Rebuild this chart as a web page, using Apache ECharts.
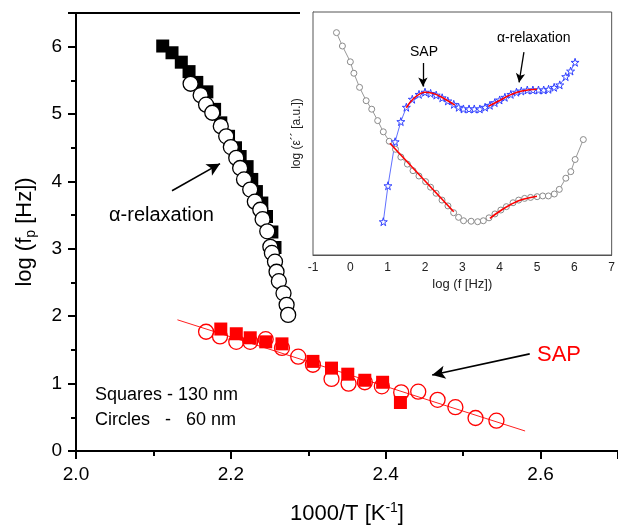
<!DOCTYPE html>
<html>
<head>
<meta charset="utf-8">
<script src="https://cdn.jsdelivr.net/npm/echarts@6/dist/echarts.min.js"></script>
<style>html,body{margin:0;padding:0;background:#fff;}#c{width:618px;height:531px;}</style>
</head>
<body>
<div id="c"></div>
<script>
// ---- main chart data: 1000/T [K^-1] vs log(fp [Hz]) ----
const alphaSquares = [
  [2.112,6.01],[2.124,5.91],[2.136,5.77],[2.146,5.63],[2.156,5.47],[2.169,5.33],
  [2.179,5.07],[2.187,4.87],[2.197,4.67],[2.206,4.50],[2.212,4.37],[2.221,4.22],
  [2.227,4.03],[2.233,3.85],[2.240,3.68],[2.246,3.48],[2.253,3.25],[2.257,3.02]
];
const alphaCircles = [
  [2.148,5.45],[2.161,5.28],[2.168,5.14],[2.176,5.02],[2.187,4.82],[2.194,4.67],
  [2.200,4.51],[2.207,4.35],[2.212,4.20],[2.217,4.03],[2.225,3.88],[2.231,3.70],
  [2.238,3.58],[2.241,3.44],[2.247,3.26],[2.251,3.03],[2.253,2.94],[2.257,2.81],
  [2.259,2.66],[2.262,2.52],[2.268,2.34],[2.272,2.17],[2.274,2.02]
];
const sapSquares = [
  [2.187,1.81],[2.207,1.74],[2.225,1.68],[2.245,1.62],[2.266,1.59],[2.306,1.33],
  [2.330,1.23],[2.351,1.14],[2.373,1.05],[2.396,1.02],[2.419,0.72]
];
const sapCircles = [
  [2.168,1.77],[2.186,1.70],[2.207,1.62],[2.225,1.62],[2.245,1.66],[2.266,1.53],
  [2.287,1.40],[2.306,1.28],[2.330,1.07],[2.352,1.00],[2.373,1.02],[2.395,0.96],
  [2.420,0.87],[2.442,0.88],[2.467,0.76],[2.490,0.65],[2.516,0.49],[2.543,0.45]
];
const sapFit = [[2.131,1.947],[2.580,0.297]];
const mainXTicks = [2.0, 2.2, 2.4, 2.6];
const mainYTicks = [0, 1, 2, 3, 4, 5, 6];

// ---- inset data: log(f [Hz]) vs log(eps'') [a.u.] ----
const insetCircles = [
  [-0.371,91.5],[-0.212,86.0],[0.0,79.5],[0.095,74.8],[0.247,69.0],[0.424,63.5],
  [0.573,60.0],[0.732,55.3],[0.883,50.7],[1.042,46.8],[1.210,43.5],[1.353,40.3],
  [1.528,37.4],[1.679,34.7],[1.838,32.5],[2.016,30.2],[2.149,27.9],[2.297,25.4],
  [2.456,22.6],[2.615,20.2],[2.767,17.4],[2.899,15.5],[3.032,14.1],[3.236,13.9],
  [3.411,13.7],[3.562,14.1],[3.714,15.3],[3.873,16.9],[4.032,18.5],[4.180,19.9],
  [4.358,21.5],[4.509,22.6],[4.668,23.3],[4.828,23.7],[5.003,24.0],[5.154,24.3],
  [5.305,24.3],[5.464,25.1],[5.597,27.0],[5.772,31.6],[5.905,34.3],[6.021,39.3],
  [6.241,47.5]
];
const insetStars = [
  [0.883,13.7],[1.008,28.5],[1.20,46.6],[1.353,54.9],[1.50,60.8],[1.66,64.1],
  [1.84,66.1],[2.0,67.0],[2.15,66.5],[2.30,65.8],[2.46,64.7],[2.61,63.4],
  [2.77,62.0],[2.90,60.8],[3.03,60.1],[3.18,60.1],[3.32,60.1],[3.47,60.1],
  [3.61,60.8],[3.74,61.6],[3.87,62.7],[4.0,63.8],[4.14,64.9],[4.30,66.1],
  [4.45,67.0],[4.58,67.5],[4.74,67.9],[4.89,67.9],[5.04,67.9],[5.18,67.9],
  [5.31,68.2],[5.46,69.0],[5.61,70.0],[5.77,73.4],[5.90,75.7],[6.02,79.3]
];
const fitStarsSAP = [[1.5,60.6],[1.7,64.5],[1.9,66.6],[2.0,67.0],[2.2,66.6],[2.4,65.3],[2.6,63.6],[2.8,61.7]];
const fitStarsAlpha = [[3.7,61.2],[4.0,63.6],[4.3,66.0],[4.6,67.5],[5.0,68.2]];
const fitCirclesSAP = [[1.06,46.0],[2.77,17.8]];
const fitCirclesAlpha = [[3.74,15.1],[4.0,18.0],[4.3,20.8],[4.6,22.8],[5.0,24.2]];
const insetXTicks = [-1, 0, 1, 2, 3, 4, 5, 6, 7];

const FF = '"Liberation Sans", Arial, Helvetica, sans-serif';
const STAR = 'path://M50,0 L61,35 L98,35 L68,57 L79,91 L50,70 L21,91 L32,57 L2,35 L39,35 Z';

const chart = echarts.init(document.getElementById('c'), null, {renderer: 'canvas'});

const option = {
  backgroundColor: '#fff',
  animation: false,
  grid: [
    {left: 76, top: 13, right: -4, bottom: 80, z: 0},
    {left: 313, top: 12, right: 3, bottom: 276, show: true, backgroundColor: '#fff',
     borderColor: '#555', borderWidth: 1, z: 5}
  ],
  xAxis: [
    {
      gridIndex: 0, type: 'value', min: 2.0, max: 2.7, interval: 0.2,
      axisLine: {show: true, onZero: false, lineStyle: {color: '#000', width: 2}},
      axisTick: {show: true, inside: false, length: 8, lineStyle: {color: '#000', width: 2}},
      minorTick: {show: true, splitNumber: 2, length: 5, lineStyle: {color: '#000', width: 2}},
      splitLine: {show: false},
      axisLabel: {margin: 14, fontSize: 19, color: '#000', fontFamily: FF, showMaxLabel: false,
        formatter: v => mainXTicks.some(t => Math.abs(t - v) < 1e-6) ? v.toFixed(1) : ''},
      name: '{a|1000/T [K}{s|-1}{a|]}', nameLocation: 'middle', nameGap: 50,
      nameTextStyle: {rich: {
        a: {fontSize: 22, fontFamily: FF, color: '#000', lineHeight: 26},
        s: {fontSize: 14, fontFamily: FF, color: '#000', lineHeight: 14, verticalAlign: 'top'}
      }}
    },
    {
      gridIndex: 1, type: 'value', min: -1, max: 7, interval: 1,
      axisLine: {show: true, onZero: false, lineStyle: {color: '#555', width: 1}},
      axisTick: {show: true, inside: true, length: 5, lineStyle: {color: '#555'}},
      minorTick: {show: true, splitNumber: 2, length: 3, lineStyle: {color: '#555'}},
      splitLine: {show: false},
      axisLabel: {margin: 7, fontSize: 12, color: '#222', fontFamily: FF,
        formatter: v => insetXTicks.includes(v) ? String(v) : ''},
      name: 'log (f [Hz])', nameLocation: 'middle', nameGap: 23,
      nameTextStyle: {fontSize: 13, fontFamily: FF, color: '#222'}
    }
  ],
  yAxis: [
    {
      gridIndex: 0, type: 'value', min: 0, max: 6.5, interval: 1,
      axisLine: {show: true, onZero: false, lineStyle: {color: '#000', width: 2}},
      axisTick: {show: true, inside: false, length: 8, lineStyle: {color: '#000', width: 2}},
      minorTick: {show: true, splitNumber: 2, length: 5, lineStyle: {color: '#000', width: 2}},
      splitLine: {show: false},
      axisLabel: {margin: 14, fontSize: 19, color: '#000', fontFamily: FF, showMaxLabel: false,
        formatter: v => mainYTicks.includes(v) ? String(v) : ''},
      name: '{a|log (f}{s|p}{a| [Hz])}', nameLocation: 'middle', nameGap: 38,
      nameTextStyle: {rich: {
        a: {fontSize: 22, fontFamily: FF, color: '#000', lineHeight: 26},
        s: {fontSize: 14, fontFamily: FF, color: '#000', lineHeight: 14, verticalAlign: 'bottom'}
      }}
    },
    {
      gridIndex: 1, type: 'value', min: 0, max: 100,
      axisLine: {show: true, onZero: false, lineStyle: {color: '#555', width: 1}},
      axisTick: {show: false}, axisLabel: {show: false}, splitLine: {show: false},
      name: 'log (ε´´ [a.u.])', nameLocation: 'middle', nameGap: 10,
      nameTextStyle: {fontSize: 12, fontFamily: FF, color: '#222'}
    }
  ],
  series: [
    {
      type: 'line', xAxisIndex: 0, yAxisIndex: 0, data: sapFit, symbol: 'none',
      lineStyle: {color: '#ff2020', width: 1}, z: 2, silent: true
    },
    {
      type: 'scatter', xAxisIndex: 0, yAxisIndex: 0, data: sapCircles, symbol: 'circle', symbolSize: 15,
      itemStyle: {color: 'rgba(255,255,255,0)', borderColor: '#ff0000', borderWidth: 1.3, opacity: 1}, z: 3
    },
    {
      type: 'scatter', xAxisIndex: 0, yAxisIndex: 0, data: sapSquares, symbol: 'rect', symbolSize: 13,
      itemStyle: {color: '#ff0000', opacity: 1}, z: 4,
      markLine: {
        silent: true, symbol: ['none', 'arrow'], symbolSize: [10, 13], label: {show: false},
        lineStyle: {color: '#000', width: 1.6, type: 'solid'}, itemStyle: {color: '#000'},
        data: [[{coord: [2.586, 1.441]}, {coord: [2.460, 1.129]}]]
      }
    },
    {
      type: 'scatter', xAxisIndex: 0, yAxisIndex: 0, data: alphaSquares, symbol: 'rect', symbolSize: 13,
      itemStyle: {color: '#000', opacity: 1}, z: 3
    },
    {
      type: 'scatter', xAxisIndex: 0, yAxisIndex: 0, data: alphaCircles, symbol: 'circle', symbolSize: 15,
      itemStyle: {color: '#fff', borderColor: '#000', borderWidth: 1.3, opacity: 1}, z: 4,
      markLine: {
        silent: true, symbol: ['none', 'arrow'], symbolSize: [10, 13], label: {show: false},
        lineStyle: {color: '#000', width: 1.6, type: 'solid'}, itemStyle: {color: '#000'},
        data: [[{coord: [2.124, 3.863]}, {coord: [2.186, 4.264]}]]
      }
    },
    // inset
    {
      type: 'line', xAxisIndex: 1, yAxisIndex: 1, data: insetCircles, symbol: 'circle', symbolSize: 6,
      lineStyle: {color: '#999', width: 1}, itemStyle: {color: '#fff', borderColor: '#8a8a8a', borderWidth: 1}, z: 10
    },
    {
      type: 'line', xAxisIndex: 1, yAxisIndex: 1, data: insetStars, symbol: STAR, symbolSize: 8,
      lineStyle: {color: '#6070ff', width: 1}, itemStyle: {color: '#fff', borderColor: '#3040ff', borderWidth: 1}, z: 10,
      markLine: {
        silent: true, symbol: ['none', 'arrow'], symbolSize: [7, 9], label: {show: false},
        lineStyle: {color: '#000', width: 1.3, type: 'solid'}, itemStyle: {color: '#000'},
        data: [
          [{coord: [1.944, 79.0]}, {coord: [1.944, 69.3]}],
          [{coord: [4.65, 83.5]}, {coord: [4.52, 71.0]}]
        ]
      }
    },
    {type: 'line', xAxisIndex: 1, yAxisIndex: 1, data: fitStarsSAP, symbol: 'none', smooth: true,
     lineStyle: {color: '#ff0000', width: 1.6}, z: 11, silent: true},
    {type: 'line', xAxisIndex: 1, yAxisIndex: 1, data: fitStarsAlpha, symbol: 'none', smooth: true,
     lineStyle: {color: '#ff0000', width: 1.6}, z: 11, silent: true},
    {type: 'line', xAxisIndex: 1, yAxisIndex: 1, data: fitCirclesSAP, symbol: 'none',
     lineStyle: {color: '#ff0000', width: 1.6}, z: 11, silent: true},
    {type: 'line', xAxisIndex: 1, yAxisIndex: 1, data: fitCirclesAlpha, symbol: 'none', smooth: true,
     lineStyle: {color: '#ff0000', width: 1.6}, z: 11, silent: true}
  ],
  graphic: [
    {type: 'line', z: 1, shape: {x1: 76, y1: 13, x2: 300, y2: 13}, style: {stroke: '#000', lineWidth: 2}},
    {type: 'text', left: 109, top: 205, z: 20,
     style: {text: 'α-relaxation', font: '20px ' + FF, fill: '#000'}},
    {type: 'text', left: 95, top: 386, z: 20,
     style: {text: 'Squares - 130 nm', font: '18px ' + FF, fill: '#000'}},
    {type: 'text', left: 95, top: 411, z: 20,
     style: {text: 'Circles   -   60 nm', font: '18px ' + FF, fill: '#000'}},
    {type: 'text', left: 537, top: 344, z: 20,
     style: {text: 'SAP', font: '22px ' + FF, fill: '#ff0000'}},
    {type: 'text', left: 410, top: 45, z: 20,
     style: {text: 'SAP', font: '14px ' + FF, fill: '#000'}},
    {type: 'text', left: 497, top: 31, z: 20,
     style: {text: 'α-relaxation', font: '14px ' + FF, fill: '#000'}}
  ]
};
chart.setOption(option);
</script>
</body>
</html>
